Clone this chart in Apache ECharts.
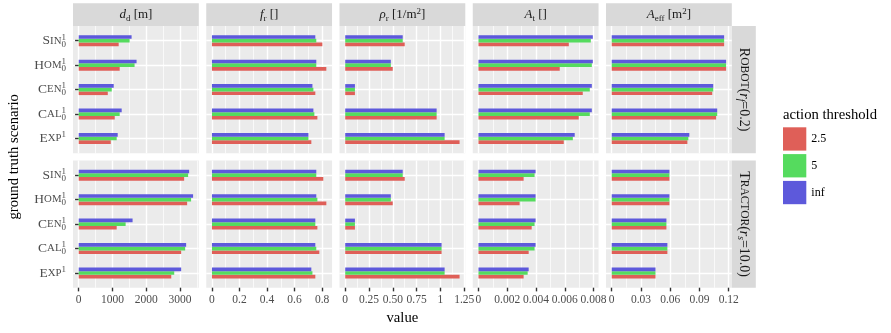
<!DOCTYPE html>
<html><head><meta charset="utf-8">
<script src="https://cdn.jsdelivr.net/npm/echarts@6/dist/echarts.min.js"></script>
<style>html,body{margin:0;padding:0;background:#fff}#c{width:891px;height:333px}</style>
</head><body><div id="c"></div>
<script>
// ---------------- data ----------------
const categories = ['Sin', 'Hom', 'Cen', 'Cal', 'Exp'];
const catSup = ['1', '1', '1', '1', '1'];
const catSub = ['0', '0', '0', '0', ''];
const thresholds = ['2.5', '5', 'inf'];
const colors = ['#DF5F58', '#55DB5E', '#5D59DB'];

// d_d [m]
const dd_robot_25  = [1185, 1215, 862, 1068, 950];
const dd_robot_5   = [1509, 1656, 979, 1215, 1126];
const dd_robot_inf = [1568, 1715, 1038, 1274, 1156];
const dd_tractor_25  = [3126, 3215, 1126, 3038, 2744];
const dd_tractor_5   = [3244, 3332, 1391, 3156, 2832];
const dd_tractor_inf = [3274, 3391, 1597, 3185, 3038];
// f_r []
const fr_robot_25  = [0.802, 0.831, 0.751, 0.766, 0.722];
const fr_robot_5   = [0.758, 0.758, 0.737, 0.744, 0.701];
const fr_robot_inf = [0.751, 0.758, 0.730, 0.737, 0.701];
const fr_tractor_25  = [0.809, 0.831, 0.766, 0.780, 0.751];
const fr_tractor_5   = [0.758, 0.766, 0.751, 0.758, 0.730];
const fr_tractor_inf = [0.758, 0.758, 0.751, 0.751, 0.722];
// rho_r [1/m^2]
const rho_robot_25  = [0.625, 0.499, 0.102, 0.960, 1.201];
const rho_robot_5   = [0.604, 0.479, 0.102, 0.960, 1.044];
const rho_robot_inf = [0.604, 0.479, 0.102, 0.960, 1.044];
const rho_tractor_25  = [0.625, 0.499, 0.102, 1.012, 1.201];
const rho_tractor_5   = [0.604, 0.479, 0.102, 1.012, 1.044];
const rho_tractor_inf = [0.604, 0.479, 0.102, 1.012, 1.044];
// A_t []
const at_robot_25  = [0.00628, 0.00565, 0.00725, 0.00697, 0.00593];
const at_robot_5   = [0.00781, 0.00788, 0.00774, 0.00774, 0.00656];
const at_robot_inf = [0.00795, 0.00795, 0.00788, 0.00788, 0.00669];
const at_tractor_25  = [0.00314, 0.00286, 0.00370, 0.00349, 0.00314];
const at_tractor_5   = [0.00390, 0.00397, 0.00390, 0.00390, 0.00342];
const at_tractor_inf = [0.00397, 0.00397, 0.00397, 0.00397, 0.00349];
// A_eff [m^2]
const aeff_robot_25  = [0.1153, 0.1173, 0.1031, 0.1071, 0.0776];
const aeff_robot_5   = [0.1153, 0.1173, 0.1041, 0.1082, 0.0786];
const aeff_robot_inf = [0.1153, 0.1173, 0.1041, 0.1082, 0.0796];
const aeff_tractor_25  = [0.0592, 0.0592, 0.0561, 0.0571, 0.0449];
const aeff_tractor_5   = [0.0592, 0.0592, 0.0561, 0.0571, 0.0449];
const aeff_tractor_inf = [0.0592, 0.0592, 0.0561, 0.0571, 0.0449];

// tick values / labels
const ticks_dd = [0, 1000, 2000, 3000];
const labels_dd = ['0', '1000', '2000', '3000'];
const minor_dd = [500, 1500, 2500, 3500];
const ticks_fr = [0, 0.2, 0.4, 0.6, 0.8];
const labels_fr = ['0', '0.2', '0.4', '0.6', '0.8'];
const minor_fr = [0.1, 0.3, 0.5, 0.7];
const ticks_rho = [0, 0.25, 0.5, 0.75, 1, 1.25];
const labels_rho = ['0', '0.25', '0.50', '0.75', '1', '1.25'];
const minor_rho = [0.125, 0.375, 0.625, 0.875, 1.125];
const ticks_at = [0, 0.002, 0.004, 0.006, 0.008];
const labels_at = ['0', '0.002', '0.004', '0.006', '0.008'];
const minor_at = [0.001, 0.003, 0.005, 0.007];
const ticks_aeff = [0, 0.03, 0.06, 0.09, 0.12];
const labels_aeff = ['0', '0.03', '0.06', '0.09', '0.12'];
const minor_aeff = [0.015, 0.045, 0.075, 0.105];

// ---------------- assembly ----------------
const rowData = [
  [[dd_robot_25, dd_robot_5, dd_robot_inf], [fr_robot_25, fr_robot_5, fr_robot_inf],
   [rho_robot_25, rho_robot_5, rho_robot_inf], [at_robot_25, at_robot_5, at_robot_inf],
   [aeff_robot_25, aeff_robot_5, aeff_robot_inf]],
  [[dd_tractor_25, dd_tractor_5, dd_tractor_inf], [fr_tractor_25, fr_tractor_5, fr_tractor_inf],
   [rho_tractor_25, rho_tractor_5, rho_tractor_inf], [at_tractor_25, at_tractor_5, at_tractor_inf],
   [aeff_tractor_25, aeff_tractor_5, aeff_tractor_inf]]
];
const colTicks = [ticks_dd, ticks_fr, ticks_rho, ticks_at, ticks_aeff];
const colLabels = [labels_dd, labels_fr, labels_rho, labels_at, labels_aeff];
const colMinor = [minor_dd, minor_fr, minor_rho, minor_at, minor_aeff];

const FONT = 'Liberation Serif';
const PL = [73, 206.25, 339.5, 472.75, 606];
const PW = 125.8;
const PT = [26, 160.5];
const PH = 127.2;
const BAR = 0.15;

const grids = [], xAxes = [], yAxes = [], series = [];

const LC = '#4D4D4D';
const yRich = {
  cap: {fontFamily: FONT, fontSize: 13.5, lineHeight: 16, color: LC},
  sc: {fontFamily: FONT, fontSize: 10.8, lineHeight: 16, color: LC},
  sup: {fontFamily: FONT, fontSize: 9, lineHeight: 10, verticalAlign: 'top', color: LC},
  supR: {fontFamily: FONT, fontSize: 9, lineHeight: 10, verticalAlign: 'top', width: 0.001, align: 'right', color: LC},
  sub: {fontFamily: FONT, fontSize: 9, lineHeight: 10, verticalAlign: 'bottom', color: LC}
};
function yFormatter(v) {
  const i = Math.round(v) - 1;
  const n = categories[i];
  if (!n) return '';
  const head = '{cap|' + n[0] + '}{sc|' + n.slice(1).toUpperCase() + '}';
  return catSub[i] ? head + '{sub|' + catSub[i] + '}{supR|' + catSup[i] + '}' : head + '{sup|' + catSup[i] + '}';
}
function makeRender(k) {
  return function (params, api) {
    const v = api.value(0), y = api.value(1);
    const yc = y + (1 - k) * BAR;
    const p0 = api.coord([0, yc - BAR / 2]);
    const p1 = api.coord([v, yc + BAR / 2]);
    return {
      type: 'rect',
      shape: {x: Math.min(p0[0], p1[0]), y: Math.min(p0[1], p1[1]),
              width: Math.abs(p1[0] - p0[0]), height: Math.abs(p1[1] - p0[1])},
      style: {fill: colors[k]}
    };
  };
}

for (let c = 0; c < 5; c++) {
  let M = 0;
  rowData.forEach(r => r[c].forEach(a => a.forEach(v => { if (v > M) M = v; })));
  const xmin = -0.05 * M, xmax = 1.05 * M;
  const tks = colTicks[c], lbs = colLabels[c];
  const minor = colMinor[c].filter(v => v > xmin && v < xmax);
  for (let r = 0; r < 2; r++) {
    const g = r * 5 + c;
    grids[g] = {left: PL[c], top: PT[r], width: PW, height: PH, show: true,
      backgroundColor: '#EBEBEB', borderWidth: 0, containLabel: false, outerBoundsMode: 'none'};
    xAxes[2 * g] = {
      gridIndex: g, type: 'value', min: xmin, max: xmax, position: 'bottom',
      axisLine: {show: false},
      axisTick: {show: r === 1, length: 3.67, customValues: tks, lineStyle: {color: '#333333', width: 1.4}},
      axisLabel: {show: r === 1, customValues: tks, margin: 6, color: LC, fontFamily: FONT, fontSize: 11.5,
        formatter: function (v) {
          let best = 0;
          for (let i = 0; i < tks.length; i++) if (Math.abs(tks[i] - v) < Math.abs(tks[best] - v)) best = i;
          return lbs[best];
        }},
      splitLine: {show: true, lineStyle: {color: '#FFFFFF', width: 1.4}}
    };
    xAxes[2 * g + 1] = {
      gridIndex: g, type: 'value', min: xmin, max: xmax, position: 'top',
      axisLine: {show: false}, axisLabel: {show: false},
      axisTick: {show: false, customValues: minor},
      splitLine: {show: true, lineStyle: {color: '#FFFFFF', width: 0.7}}
    };
    yAxes[g] = {
      gridIndex: g, type: 'value', inverse: true, min: 0.4, max: 5.6,
      axisLine: {show: false},
      axisTick: {show: c === 0, length: 3.67, customValues: [1, 2, 3, 4, 5], lineStyle: {color: '#333333', width: 1.4}},
      axisLabel: {show: c === 0, customValues: [1, 2, 3, 4, 5], margin: 7, formatter: yFormatter, rich: yRich},
      splitLine: {show: true, lineStyle: {color: '#FFFFFF', width: 1.4}}
    };
    for (let k = 0; k < 3; k++) {
      series.push({
        type: 'custom', name: thresholds[k], xAxisIndex: 2 * g, yAxisIndex: g,
        itemStyle: {color: colors[k]}, silent: true,
        encode: {x: 0, y: 1},
        data: rowData[r][c][k].map((v, i) => [v, i + 1]),
        renderItem: makeRender(k)
      });
    }
  }
}

// strips and titles
function rs(size, style, extra) {
  return Object.assign({fontFamily: FONT, fontSize: size, fontStyle: style || 'normal', fill: '#1A1A1A', lineHeight: 16}, extra || {});
}
const stripRich = {
  n: rs(13), it: rs(13, 'italic'), sc: rs(10.4),
  sub: rs(9, 'normal', {lineHeight: 11, verticalAlign: 'bottom'}),
  subit: rs(9, 'italic', {lineHeight: 11, verticalAlign: 'bottom'}),
  sup: rs(9, 'normal', {lineHeight: 10, verticalAlign: 'top'})
};
const rowStripRich = {
  n: rs(14), it: rs(14, 'italic'), sc: rs(11.5),
  subit: rs(9.5, 'italic', {lineHeight: 11, verticalAlign: 'bottom'})
};
const stripTexts = [
  '{it|d}{sub|d}{n| [m]}',
  '{it|f}{sub|r}{n| []}',
  '{it|ρ}{sub|r}{n| [1/m}{sup|2}{n|]}',
  '{it|A}{sub|t}{n| []}',
  '{it|A}{sub|eff}{n| [m}{sup|2}{n|]}'
];
const rowStripTexts = [
  '{n|R}{sc|OBOT}{n|(}{it|r}{subit|f}{n|=0.2)}',
  '{n|T}{sc|RACTOR}{n|(}{it|r}{subit|s}{n|=10.0)}'
];
function txt(cx, cy, text, rich, rot) {
  return {type: 'text', x: cx, y: cy, rotation: rot || 0, silent: true,
    style: {x: 0, y: 0, text: text, rich: rich, align: 'center', verticalAlign: 'middle',
      textAlign: 'center', textVerticalAlign: 'middle'}};
}
const graphics = [];
for (let c = 0; c < 5; c++) {
  graphics.push({type: 'rect', silent: true, shape: {x: PL[c], y: 3.3, width: PW, height: PT[0] - 3.3}, style: {fill: '#D9D9D9'}});
  graphics.push(txt(PL[c] + PW / 2, (3.3 + PT[0]) / 2, stripTexts[c], stripRich));
}
const SX = PL[4] + PW;
for (let r = 0; r < 2; r++) {
  graphics.push({type: 'rect', silent: true, shape: {x: SX, y: PT[r], width: 24, height: PH}, style: {fill: '#D9D9D9'}});
  graphics.push(txt(SX + 12, PT[r] + PH / 2, rowStripTexts[r], rowStripRich, -Math.PI / 2));
}
const titleRich = {t: {fontFamily: FONT, fontSize: 14.67, fill: '#000000', lineHeight: 18}};
graphics.push(txt((PL[0] + PL[4] + PW) / 2, 318, '{t|value}', titleRich));
graphics.push(txt(14.5, (PT[0] + PT[1] + PH) / 2, '{t|ground truth scenario}', titleRich, Math.PI / 2));
graphics.push({type: 'text', x: 783, y: 115.5, silent: true,
  style: {x: 0, y: 0, text: '{t|action threshold}', rich: titleRich, align: 'left', verticalAlign: 'middle',
    textAlign: 'left', textVerticalAlign: 'middle'}});

const chart = echarts.init(document.getElementById('c'), null, {renderer: 'canvas'});
chart.setOption({
  animation: false,
  color: colors,
  grid: grids,
  xAxis: xAxes,
  yAxis: yAxes,
  series: series,
  legend: {
    data: thresholds, orient: 'vertical', left: 783, top: 127.3, padding: 0,
    itemWidth: 23.3, itemHeight: 23.3, itemGap: 3.5, icon: 'rect', selectedMode: false,
    textStyle: {fontFamily: FONT, fontSize: 12, color: '#000000'}
  },
  graphic: {elements: graphics}
});
</script></body></html>
